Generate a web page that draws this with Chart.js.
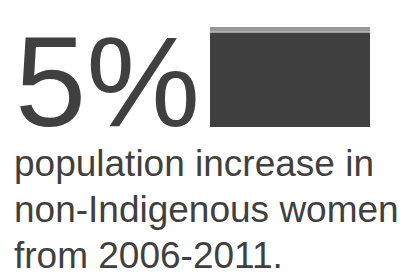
<!DOCTYPE html>
<html>
<head>
<meta charset="utf-8">
<script src="https://cdn.jsdelivr.net/npm/chart.js@4/dist/chart.umd.min.js"></script>
<style>
    html, body {
        margin: 0;
        padding: 0;
        background: #ffffff;
        width: 405px;
        height: 278px;
        overflow: hidden;
        font-family: 'Liberation Sans', Arial, sans-serif;
        color: #404040;
    }
    .big-number {
        position: absolute;
        left: 15px;
        top: 28px;
        font-size: 128px;
        line-height: 108px;
        white-space: nowrap;
    }
    .caption {
        position: absolute;
        left: 14px;
        top: 141px;
        font-size: 37px;
        line-height: 46px;
        white-space: nowrap;
    }
    .bar-box {
        position: absolute;
        left: 210px;
        top: 27px;
        width: 160px;
        height: 100px;
    }
</style>
</head>
<body>
<div class="big-number" id="bigNumber"></div>
<div class="caption">population increase in<br>non-Indigenous women<br>from 2006-2011.</div>
<div class="bar-box"><canvas id="increaseChart" width="160" height="100"></canvas></div>

<script>
    // --- Data ---
    const categories = ['2006-2011'];
    const baseValues = [100];     // population in 2006 (indexed)
    const increaseValues = [5];   // increase to 2011, percent
    const headline = increaseValues[0] + '%';

    document.getElementById('bigNumber').textContent = headline;

    // --- Bar Chart ---
    const ctx = document.getElementById('increaseChart').getContext('2d');
    new Chart(ctx, {
        type: 'bar',
        data: {
            labels: categories,
            datasets: [{
                label: '2006',
                data: baseValues,
                backgroundColor: '#404040',
                borderColor: '#ffffff',
                borderWidth: { top: 1, right: 0, bottom: 0, left: 0 },
                borderSkipped: false,
                categoryPercentage: 1,
                barPercentage: 1
            }, {
                label: 'Increase',
                data: increaseValues,
                backgroundColor: '#999999',
                borderWidth: 0,
                categoryPercentage: 1,
                barPercentage: 1
            }]
        },
        options: {
            responsive: false,
            animation: false,
            devicePixelRatio: 1,
            layout: { padding: 0 },
            plugins: {
                legend: { display: false },
                tooltip: { enabled: false }
            },
            scales: {
                x: { display: false, stacked: true },
                y: {
                    display: false,
                    stacked: true,
                    min: 0,
                    max: baseValues[0] + increaseValues[0]
                }
            }
        }
    });
</script>
</body>
</html>
